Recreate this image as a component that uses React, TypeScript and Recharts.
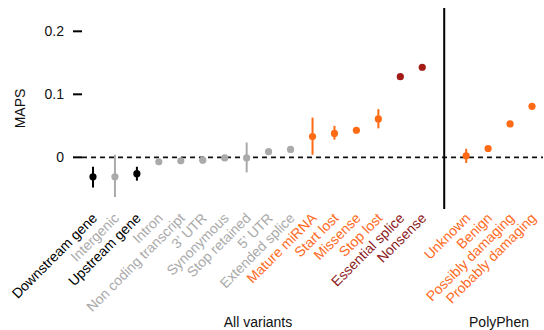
import React from "react";
import { Bar, Cell, ComposedChart, Line, ReferenceLine, XAxis, YAxis } from "recharts";

const CATEGORIES = [
  "Downstream gene",
  "Intergenic",
  "Upstream gene",
  "Intron",
  "Non coding transcript",
  "3’ UTR",
  "Synonymous",
  "Stop retained",
  "5’ UTR",
  "Extended splice",
  "Mature miRNA",
  "Start lost",
  "Missense",
  "Stop lost",
  "Essential splice",
  "Nonsense",
  " ",
  "Unknown",
  "Benign",
  "Possibly damaging",
  "Probably damaging",
];

const GROUPS = [
  "black", "grey", "black", "grey", "grey", "grey", "grey", "grey", "grey", "grey",
  "orange", "orange", "orange", "orange", "red", "red", "none",
  "orange", "orange", "orange", "orange",
];

const MAPS = [
  -0.031, -0.031, -0.026, -0.007, -0.0055, -0.0045, -0.001, -0.001, 0.009, 0.0125,
  0.033, 0.038, 0.043, 0.061, 0.128, 0.143, null,
  0.0025, 0.014, 0.053, 0.081,
];

const LOW = [
  -0.048, -0.063, -0.037, null, null, null, null, -0.024, null, null,
  0.004, 0.028, null, 0.046, null, null, null,
  -0.009, null, 0.049, null,
];

const HIGH = [
  -0.015, 0.004, -0.015, null, null, null, null, 0.0235, null, null,
  0.063, 0.05, null, 0.0765, null, null, null,
  0.0135, null, 0.058, null,
];

const Y_TICKS = [0, 0.1, 0.2];

const DOT = { black: "#000000", grey: "#aaaaaa", orange: "#ff6a14", red: "#a31a16", none: "none" };
const TEXT = { black: "#000000", grey: "#aaaaaa", orange: "#ff6a24", red: "#8e1c1e", none: "none" };

const FONT = "'Liberation Sans', Arial, Helvetica, sans-serif";

const data = CATEGORIES.map((name, i) => ({
  name,
  group: GROUPS[i],
  maps: MAPS[i],
  range: LOW[i] != null ? [LOW[i], HIGH[i]] : null,
}));

function PointDot(props: any) {
  const { cx, cy, payload } = props;
  if (payload.maps == null || cy == null) return <g />;
  return <circle cx={cx} cy={cy} r={3.6} fill={DOT[payload.group as keyof typeof DOT]} />;
}

function CategoryTick(props: any) {
  const { x, y, payload, index } = props;
  const g = GROUPS[index] as keyof typeof TEXT;
  const tx = x + 5;
  const ty = y + 2;
  return (
    <text
      x={tx}
      y={ty}
      transform={`rotate(-45 ${tx} ${ty})`}
      textAnchor="end"
      fontSize={14}
      fontFamily={FONT}
      fill={TEXT[g]}
    >
      {payload.value}
    </text>
  );
}

// rotated axis title, centred on the plot height
function MapsLabel(props: any) {
  const { viewBox } = props;
  const cx = 20;
  const cy = viewBox.y + viewBox.height / 2;
  return (
    <text
      x={cx}
      y={cy}
      transform={`rotate(-90 ${cx} ${cy})`}
      textAnchor="middle"
      dominantBaseline="central"
      fontSize={14}
      fontFamily={FONT}
      fill="#111"
    >
      MAPS
    </text>
  );
}

export default function App() {
  return (
    <div style={{ position: "absolute", left: 0, top: 0, width: 544, height: 330, background: "#fff", fontFamily: FONT }}>
      <ComposedChart width={544} height={330} data={data} margin={{ top: 8, right: 1, left: 0, bottom: 0 }}>
        <XAxis dataKey="name" interval={0} axisLine={false} tickLine={false} tick={<CategoryTick />} height={121} />
        <YAxis
          type="number"
          domain={[-0.082, 0.237]}
          ticks={Y_TICKS}
          allowDataOverflow
          width={82}
          axisLine={false}
          tickSize={9}
          tickMargin={9}
          tickLine={{ stroke: "#000", strokeWidth: 2 }}
          tick={{ fontSize: 14, fill: "#111", fontFamily: FONT }}
          tickFormatter={(v: number) => String(v)}
          label={<MapsLabel />}
        />
        <ReferenceLine y={0} stroke="#111" strokeWidth={1.6} strokeDasharray="5 4" />
        <ReferenceLine x=" " stroke="#000" strokeWidth={2} />
        <Bar dataKey="range" barSize={2} isAnimationActive={false}>
          {data.map((d, i) => (
            <Cell key={i} fill={DOT[d.group as keyof typeof DOT]} />
          ))}
        </Bar>
        <Line dataKey="maps" stroke="none" dot={<PointDot />} activeDot={false} isAnimationActive={false} />
      </ComposedChart>
      <div style={{ position: "absolute", left: 258, top: 314, transform: "translateX(-50%)", fontSize: 14, color: "#111", whiteSpace: "nowrap" }}>
        All variants
      </div>
      <div style={{ position: "absolute", left: 499, top: 314, transform: "translateX(-50%)", fontSize: 14, color: "#111", whiteSpace: "nowrap" }}>
        PolyPhen
      </div>
    </div>
  );
}
